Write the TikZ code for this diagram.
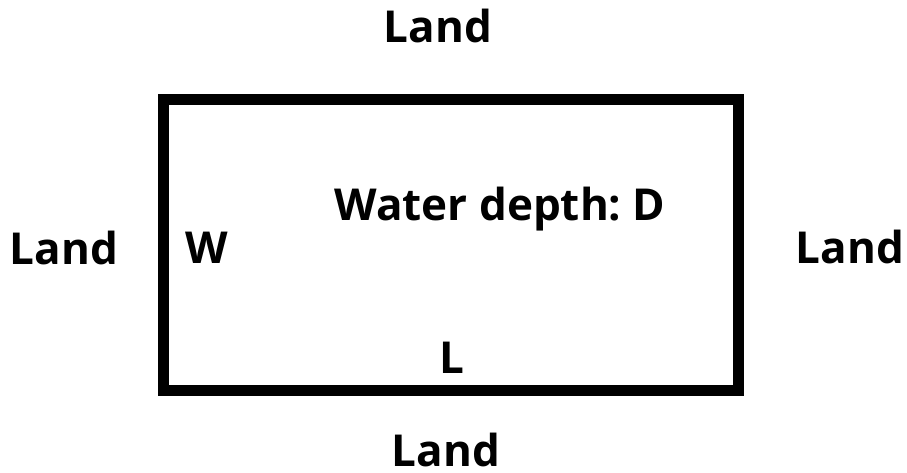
\documentclass[tikz,border=0pt]{standalone}
\usepackage{fontspec}
\setmainfont{Open Sans}
\frenchspacing
\begin{document}
\begin{tikzpicture}[x=1pt,y=-1pt,
  label/.style={inner sep=0pt,anchor=base,font=\fontsize{44}{53}\selectfont\bfseries},
  pond/.style={draw=black,line width=11pt,line join=miter}]
\useasboundingbox (0,0) rectangle (907,473);
% the body of water
\draw[pond] (163.5,100) rectangle (738.5,390);
% surrounding land
\node[label] (landN) at (438,43) {Land};
\node[label] (landW) at (64,264) {Land};
\node[label] (landE) at (850,263) {Land};
\node[label] (landS) at (446,466) {Land};
% dimensions
\node[label] (width) at (206.5,263) {W};
\node[label] (length) at (452,373) {L};
\node[label] (depth) at (500,220) {Water depth: D};
\end{tikzpicture}
\end{document}
